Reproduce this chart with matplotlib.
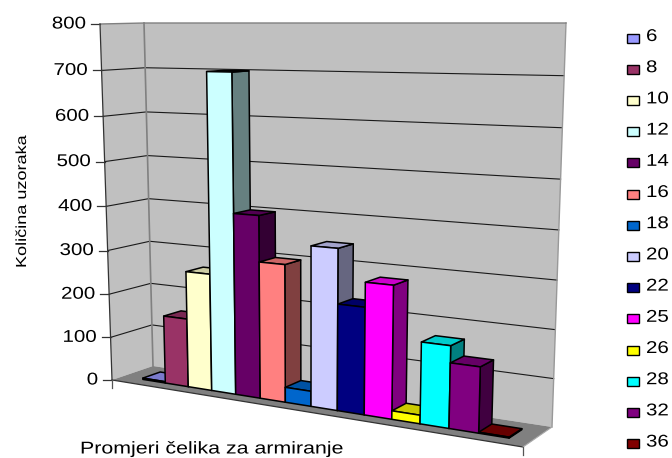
import numpy as np
import matplotlib
matplotlib.use("Agg")
import matplotlib.pyplot as plt
from matplotlib.patches import Polygon, Rectangle
from matplotlib.patheffects import AbstractPathEffect
from matplotlib.transforms import Affine2D

plt.rcParams["font.family"] = ["Liberation Sans", "DejaVu Sans"]

# data
promjeri = ["6", "8", "10", "12", "14", "16", "18", "20", "22", "25", "26", "28", "32", "36"]
kolicina = [3, 155, 262, 700, 400, 300, 33, 345, 228, 280, 18, 170, 135, 2]
boje = ["#9999FF", "#993366", "#FFFFCC", "#CCFFFF", "#660066", "#FF8080", "#0066CC",
        "#CCCCFF", "#000080", "#FF00FF", "#FFFF00", "#00FFFF", "#800080", "#800000"]
y_ticks = [0, 100, 200, 300, 400, 500, 600, 700, 800]

# corners of the 3D box in pixels
FL0, FL8 = np.array([112, 380.]), np.array([100, 24.])
BL0, BL8 = np.array([153, 366.]), np.array([144, 23.])
FR0, FR8 = np.array([523, 447.]), np.array([536, 24.])
BR0, BR8 = np.array([552, 427.]), np.array([566, 23.])
R_U = 1.2
R_V = 1.05
D0, D1 = 0.27, 0.70


class Siroko(AbstractPathEffect):
    # the reference text is stretched sideways
    def __init__(self, sx, desno=False):
        super().__init__()
        self.sx = sx
        self.desno = desno

    def draw_path(self, renderer, gc, tpath, affine, rgbFace=None):
        t = Affine2D().scale(self.sx, 1)
        if self.desno:
            w = tpath.get_extents().x1
            t.translate(-w * (self.sx - 1), 0)
        renderer.draw_path(gc, tpath, t + affine, rgbFace)


def persp(s, r):
    return s / (s + r * (1 - s))


def proj(s, d, val):
    # excel-like perspective, trilinear between the box corners
    u = persp(s, R_U)
    v = persp(val / 800.0, R_V)
    f0 = FL0 + (FR0 - FL0) * u
    f8 = FL8 + (FR8 - FL8) * u
    b0 = BL0 + (BR0 - BL0) * u
    b8 = BL8 + (BR8 - BL8) * u
    p0 = f0 + (b0 - f0) * d
    p8 = f8 + (b8 - f8) * d
    return p0 + (p8 - p0) * v


def shade(col, f):
    c = np.array(matplotlib.colors.to_rgb(col))
    return tuple(c * f)


fig = plt.figure(figsize=(6.72, 4.58), dpi=100)
ax = fig.add_axes([0, 0, 1, 1])
ax.set_xlim(0, 672)
ax.set_ylim(458, 0)
ax.axis("off")

# walls and floor
ax.add_patch(Polygon([BL0, BR0, BR8, BL8], fc="#C0C0C0", ec="none", zorder=1))
ax.add_patch(Polygon([FL0, BL0, BL8, FL8], fc="#C0C0C0", ec="none", zorder=1))
ax.add_patch(Polygon([FL0, FR0, BR0, BL0], fc="#808080", ec="none", zorder=1))

# gridlines and ticks
for t in y_ticks:
    a, b, c = proj(0, 0, t), proj(0, 1, t), proj(1, 1, t)
    if t not in (0, 800):
        ax.plot([a[0], b[0], c[0]], [a[1], b[1], c[1]], color="#1a1a1a", lw=0.8, zorder=2)
    ax.plot([a[0] - 9, a[0]], [a[1], a[1]], color="#333333", lw=0.9, zorder=2)
    txt = ax.text(a[0] - 14, a[1], str(t), ha="right", va="center", fontsize=12.3, color="black")
    txt.set_path_effects([Siroko(1.2, desno=True)])

# wall edges
ax.plot([BL0[0], BL8[0]], [BL0[1], BL8[1]], color="#808080", lw=1.2, zorder=2)
ax.plot([BR0[0], BR8[0]], [BR0[1], BR8[1]], color="#999999", lw=1.0, zorder=2)
ax.plot([FL8[0], BL8[0], BR8[0]], [FL8[1], BL8[1], BR8[1]], color="#808080", lw=1.0, zorder=2)
ax.plot([FL0[0], FL8[0]], [FL0[1], FL8[1]], color="#333333", lw=0.9, zorder=2)
ax.plot([FL0[0], FR0[0]], [FL0[1], FR0[1]], color="#333333", lw=0.9, zorder=2)
ax.plot([FR0[0], BR0[0]], [FR0[1], BR0[1]], color="#aaaaaa", lw=0.8, zorder=2)
for p in (FL0, FR0):
    ax.plot([p[0], p[0]], [p[1], p[1] + 8], color="#555555", lw=0.9, zorder=2)

# bars, left to right so the later ones cover the earlier sides
for i, (val, col) in enumerate(zip(kolicina, boje)):
    s0 = (i + 0.9) / 15.6
    s1 = (i + 1.9) / 15.6
    fl0, fr0 = proj(s0, D0, 0), proj(s1, D0, 0)
    fl1, fr1 = proj(s0, D0, val), proj(s1, D0, val)
    br0, br1 = proj(s1, D1, 0), proj(s1, D1, val)
    bl1 = proj(s0, D1, val)
    kw = dict(ec="black", lw=1.1, joinstyle="round", zorder=3 + i)
    ax.add_patch(Polygon([fr0, br0, br1, fr1], fc=shade(col, 0.5), **kw))
    ax.add_patch(Polygon([fl1, fr1, br1, bl1], fc=shade(col, 0.8), **kw))
    ax.add_patch(Polygon([fl0, fr0, fr1, fl1], fc=col, **kw))

# axis titles
yl = ax.text(29, 268, "Količina uzoraka", rotation=90, ha="left", va="bottom", rotation_mode="anchor",
             fontsize=10.5, color="black")
yl.set_path_effects([Siroko(1.24)])
xl = ax.text(80, 449, "Promjeri čelika za armiranje", ha="left", va="center", fontsize=12.3, color="black")
xl.set_path_effects([Siroko(1.25)])

# legend
for i, (lab, col) in enumerate(zip(promjeri, boje)):
    yy = 38 + i * 31.2
    ax.add_patch(Rectangle((626.5, yy - 4.5), 12, 9, fc=col, ec="black", lw=1.0, zorder=3))
    txt = ax.text(646, yy - 1.5, lab, ha="left", va="center", fontsize=12.3, color="black")
    txt.set_path_effects([Siroko(1.2)])

fig.savefig("out.png", dpi=100)
